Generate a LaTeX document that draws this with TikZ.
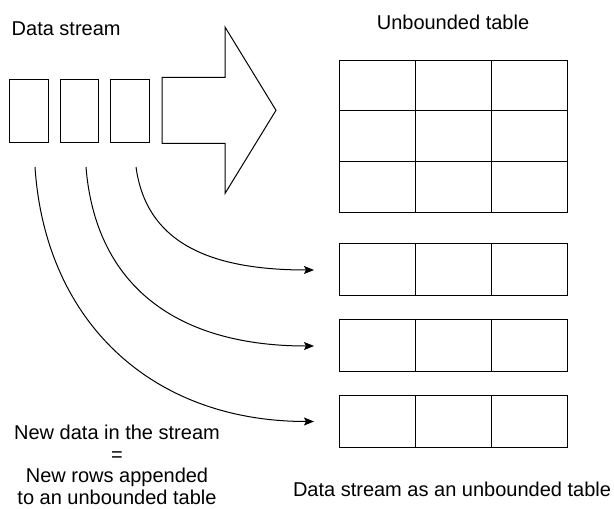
\documentclass[tikz,border=0pt]{standalone}
\usepackage{fontspec}
\setmainfont{Liberation Sans}
\usetikzlibrary{arrows.meta}
\begin{document}
\begin{tikzpicture}[x=1pt,y=-1pt,
  lbl/.style={font=\fontsize{20}{21.5}\selectfont, inner sep=0pt, align=center},
  sbox/.style={draw, line width=1pt, inner sep=0pt, outer sep=0pt, minimum width=38.7pt, minimum height=63pt},
  cell/.style={draw, line width=1pt, inner sep=0pt, outer sep=0pt, minimum width=76.3pt, minimum height=50.7pt},
  rcell/.style={draw, line width=1pt, inner sep=0pt, outer sep=0pt, minimum width=76.3pt, minimum height=52pt},
  flow/.style={line width=1pt, -{Stealth[length=10pt, width=8pt, inset=2pt]}}]
\useasboundingbox (0,0) rectangle (614,509);
% labels
\node[lbl, anchor=west] (ds) at (11.5,29) {Data stream};
\node[lbl] (ut) at (453,22) {Unbounded table};
\node[lbl] (nd) at (117,465) {New data in the stream\\=\\New rows appended\\to an unbounded table};
\node[lbl] (dsut) at (452,489) {Data stream as an unbounded table};
% stream items
\node[sbox] (b1) at (28.7,110.5) {};
\node[sbox] (b2) at (79.5,110.5) {};
\node[sbox] (b3) at (130,110.5) {};
% block arrow
\draw[line width=1pt, line join=miter] (162,77.3) -- (225,77.3) -- (225,27) -- (276,110.3) -- (225,193.5) -- (225,143.3) -- (162,143.3) -- cycle;
% unbounded table
\foreach \r in {1,2,3}{
  \foreach \c in {1,2,3}{
    \node[cell] (t\r\c) at ({339+76.3*(\c-0.5)},{60+50.7*(\r-0.5)}) {};
  }
}
% appended rows
\foreach \r/\y in {1/269.2, 2/345.3, 3/421.3}{
  \foreach \c in {1,2,3}{
    \node[rcell] (r\r\c) at ({339+76.3*(\c-0.5)},\y) {};
  }
}
% connectors
\coordinate (s1) at (35,167);
\coordinate (s2) at (86,167);
\coordinate (s3) at (136,167);
\coordinate (e1) at (314,270);
\coordinate (e2) at (314,346);
\coordinate (e3) at (314,421.5);
\draw[flow] (s3) .. controls (146,240) and (205,270) .. (e1);
\draw[flow] (s2) .. controls (95,280) and (170,346) .. (e2);
\draw[flow] (s1) .. controls (45,320) and (150,421.5) .. (e3);
\end{tikzpicture}
\end{document}
